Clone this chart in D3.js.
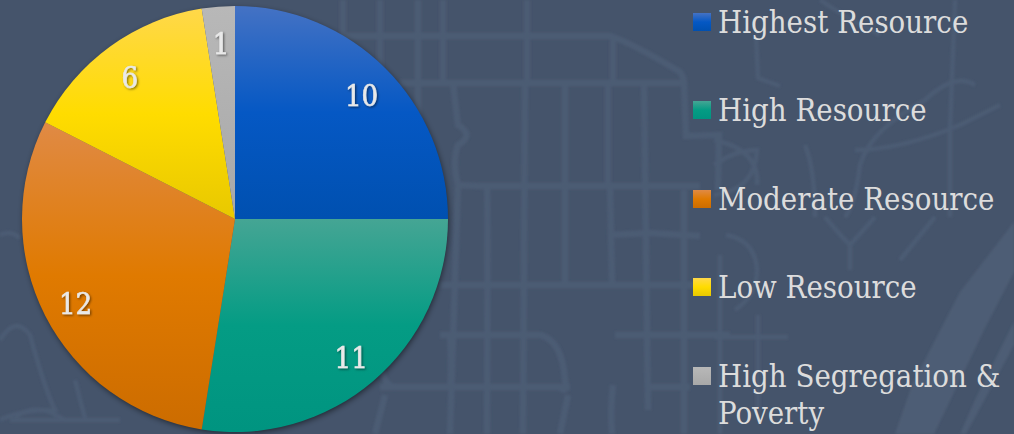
<!DOCTYPE html>
<html><head><meta charset="utf-8">
<script src="https://cdn.jsdelivr.net/npm/d3@7/dist/d3.min.js"></script>
<style>html,body{margin:0;padding:0;background:#45546b;overflow:hidden}svg{display:block}</style>
</head><body><svg id="c" width="1014" height="434"></svg>
<script>
const categories=["Highest Resource","High Resource","Moderate Resource","Low Resource","High Segregation & Poverty"];
const values=[10,11,12,6,1];
const colorTop=["#4472c4","#45a594","#e08a45","#ffd84a","#b8b8b8"];
const colorMid=["#0558c4","#049c84","#e07a00","#ffdc00","#b0b0b0"];
const colorBot=["#0050b0","#009480","#cc6c00","#e8c800","#a8a8a8"];
const legendLines=[["Highest Resource"],["High Resource"],["Moderate Resource"],["Low Resource"],["High Segregation &","Poverty"]];

// decorative street-map texture behind the chart
const streets=[
 "M340,36L610,36Q630,42 680,72Q684,77 684,83","M400,83L684,83","M684,83L686,136L719,135L718,190",
 "M343,0L343,60","M380,0L380,90","M418,0L418,140","M443,0L443,83","M527,0L527,83","M613,36L613,83",
 "M525,83L523,434","M565,83L565,283","M608,83L608,185","M644,83L648,410","M453,83Q456,110 458,125Q475,135 458,145Q452,160 458,185L450,434",
 "M455,185L480,186L700,186","M487,186Q488,195 487,434","M610,185L612,283",
 "M684,190L684,434","M608,235L650,233L700,236","M440,285L700,285","M440,335L540,335Q562,340 565,380Q567,395 560,387",
 "M615,335L730,335","M380,387L570,387","M650,387L690,387","M450,387Q452,370 450,335","M568,395L560,434",
 "M613,385Q610,410 612,434","M380,340Q378,385 395,387","M385,395L375,434"
];
const curves=[
 "M975,85Q955,72 925,100Q870,130 860,165Q855,205 845,217","M855,150Q900,150 960,125L1000,105","M805,145Q815,170 815,217",
 "M955,0L950,130L950,217","M756,35L758,78L780,86","M714,165Q735,150 757,150Q755,190 714,195","M714,140Q760,150 757,185",
 "M820,0Q850,20 880,35","M825,217Q840,235 850,245L850,270","M875,217L850,245","M935,217L900,260",
 "M720,255L720,434","M758,315L758,410","M714,337L788,337","M726,235Q755,240 757,270Q757,295 735,310",
 "M0,340Q15,315 30,335Q45,390 55,410Q20,410 0,420","M10,420L120,420","M0,235Q10,230 20,238","M75,380Q80,400 85,418","M15,418Q30,405 50,412L65,420"
];
const diagonals=["M1014,222L960,292L912,385L895,434L934,434L985,328L1014,272Z","M1014,322L975,400L960,434L966,434L1014,345Z"];

const svg=d3.select("#c");
const defs=svg.append("defs");
categories.forEach((c,i)=>{
  const g=defs.append("linearGradient").attr("id","g"+i).attr("x1",0).attr("y1",0).attr("x2",0).attr("y2",1);
  g.append("stop").attr("offset","0%").attr("stop-color",colorTop[i]);
  g.append("stop").attr("offset","50%").attr("stop-color",colorMid[i]);
  g.append("stop").attr("offset","100%").attr("stop-color",colorBot[i]);
});
const fp=defs.append("filter").attr("id","ps").attr("x","-10%").attr("y","-10%").attr("width","120%").attr("height","120%");
fp.append("feDropShadow").attr("dx",1).attr("dy",2).attr("stdDeviation",3).attr("flood-color","#000").attr("flood-opacity",.6);
const ft=defs.append("filter").attr("id","ts").attr("x","-30%").attr("y","-30%").attr("width","160%").attr("height","160%");
ft.append("feDropShadow").attr("dx",1.2).attr("dy",1.2).attr("stdDeviation",.8).attr("flood-color","#000").attr("flood-opacity",.5);
defs.append("filter").attr("id","soft").append("feGaussianBlur").attr("stdDeviation",.8);

const tex=svg.append("g").attr("fill","none").attr("stroke","#4c5b73").attr("filter","url(#soft)");
tex.selectAll("path.s").data(streets).join("path").attr("class","s").attr("d",d=>d).attr("stroke-width",6.5);
tex.selectAll("path.c").data(curves).join("path").attr("class","c").attr("d",d=>d).attr("stroke-width",4.5);
tex.selectAll("path.d").data(diagonals).join("path").attr("class","d").attr("d",d=>d).attr("fill","#4e5d75").attr("stroke","none");

const cx=235,cy=219,R=213;
const pie=d3.pie().sort(null).value(d=>d)(values);
const arc=d3.arc().innerRadius(0).outerRadius(R);
const labelArc=d3.arc().innerRadius(R*.84).outerRadius(R*.84);
const root=svg.append("g").attr("transform",`translate(${cx},${cy})`);
root.append("circle").attr("r",R-1).attr("fill","#45546b").attr("filter","url(#ps)");
root.selectAll("path").data(pie).join("path").attr("d",arc).attr("fill",(d,i)=>`url(#g${i})`);
root.selectAll("text").data(pie).join("text")
 .attr("transform",d=>{const p=labelArc.centroid(d);return `translate(${p[0]},${p[1]})`;})
 .attr("text-anchor","middle").attr("dy","0.46em")
 .attr("font-family","'DejaVu Serif Condensed','DejaVu Serif',serif").attr("font-stretch","condensed").attr("font-size",29)
 .attr("fill","#e9e9e9").attr("stroke","#e9e9e9").attr("stroke-width",.6).attr("filter","url(#ts)")
 .text(d=>d.data);

const y0=[22,110,199,287,376];
const leg=svg.append("g");
categories.forEach((c,i)=>{
  leg.append("rect").attr("x",693).attr("y",y0[i]-9).attr("width",18).attr("height",18).attr("fill",`url(#g${i})`);
  legendLines[i].forEach((t,j)=>{
    leg.append("text").attr("x",718).attr("y",y0[i]+11+j*37)
      .attr("font-family","'DejaVu Serif Condensed','DejaVu Serif',serif").attr("font-stretch","condensed").attr("font-size",30.8).attr("fill","#dcdcdc").text(t);
  });
});
</script></body></html>
